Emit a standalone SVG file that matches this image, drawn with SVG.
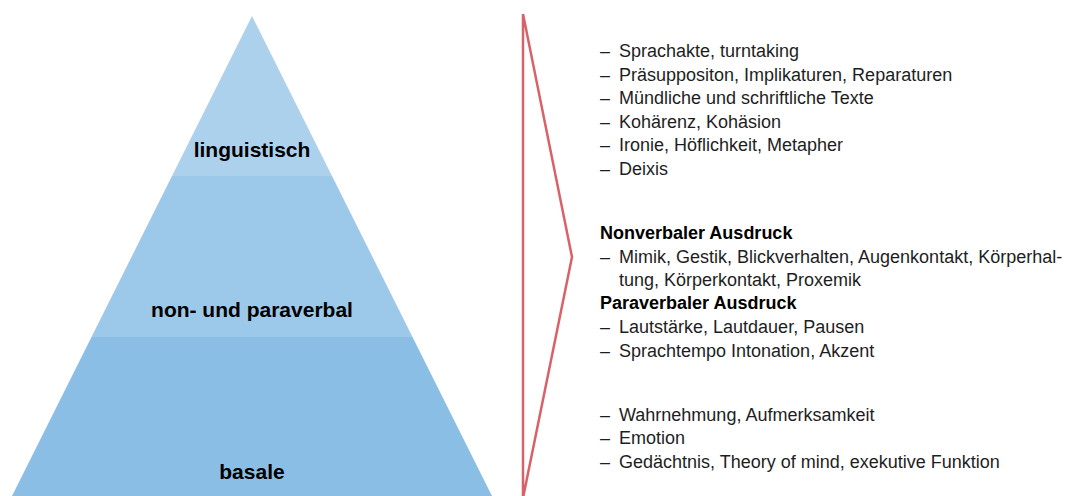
<svg xmlns="http://www.w3.org/2000/svg" width="1067" height="496" viewBox="0 0 1067 496">
<style>
.lbl{font-family:"Liberation Sans",Arial,sans-serif;font-weight:bold;font-size:21px;fill:#000;text-anchor:middle}
.t{font-family:"Liberation Sans",Arial,sans-serif;font-size:18px;fill:#1e1e1e}
.h{font-family:"Liberation Sans",Arial,sans-serif;font-size:18px;font-weight:bold;fill:#000}
.red{fill:none;stroke:#d9626a;stroke-width:2.5;stroke-linejoin:miter}
</style>
<rect width="1067" height="496" fill="#fff"/>
<g id="layer-linguistisch">
<polygon points="252,16 332,176 172,176" fill="#acd1ec"/>
<text class="lbl" x="252" y="157">linguistisch</text>
</g>
<g id="layer-nonpara">
<polygon points="172,176 332,176 412.5,337 91.5,337" fill="#9cc8e9"/>
<text class="lbl" x="252" y="317">non- und paraverbal</text>
</g>
<g id="layer-basale">
<polygon points="91.5,337 412.5,337 492,496 12,496" fill="#8abee5"/>
<text class="lbl" x="252" y="479">basale</text>
</g>
<g id="connectors">
<path class="red" d="M523,14 L523,498 M523,14 L572,257 L523,498"/>
</g>
<g id="list-linguistisch">
<text class="t" x="600" y="57">–</text><text class="t" x="619" y="57">Sprachakte, turntaking</text>
<text class="t" x="600" y="81">–</text><text class="t" x="619" y="81">Präsuppositon, Implikaturen, Reparaturen</text>
<text class="t" x="600" y="104">–</text><text class="t" x="619" y="104">Mündliche und schriftliche Texte</text>
<text class="t" x="600" y="128">–</text><text class="t" x="619" y="128">Kohärenz, Kohäsion</text>
<text class="t" x="600" y="151">–</text><text class="t" x="619" y="151">Ironie, Höflichkeit, Metapher</text>
<text class="t" x="600" y="175">–</text><text class="t" x="619" y="175">Deixis</text>
</g>
<g id="list-nonpara">
<text class="h" x="600" y="239">Nonverbaler Ausdruck</text>
<text class="t" x="600" y="263">–</text><text class="t" x="619" y="263">Mimik, Gestik, Blickverhalten, Augenkontakt, Körperhal-</text>
<text class="t" x="619" y="286">tung, Körperkontakt, Proxemik</text>
<text class="h" x="600" y="309">Paraverbaler Ausdruck</text>
<text class="t" x="600" y="333">–</text><text class="t" x="619" y="333">Lautstärke, Lautdauer, Pausen</text>
<text class="t" x="600" y="357">–</text><text class="t" x="619" y="357">Sprachtempo Intonation, Akzent</text>
</g>
<g id="list-basale">
<text class="t" x="600" y="421">–</text><text class="t" x="619" y="421">Wahrnehmung, Aufmerksamkeit</text>
<text class="t" x="600" y="444">–</text><text class="t" x="619" y="444">Emotion</text>
<text class="t" x="600" y="468">–</text><text class="t" x="619" y="468">Gedächtnis, Theory of mind, exekutive Funktion</text>
</g>
</svg>
